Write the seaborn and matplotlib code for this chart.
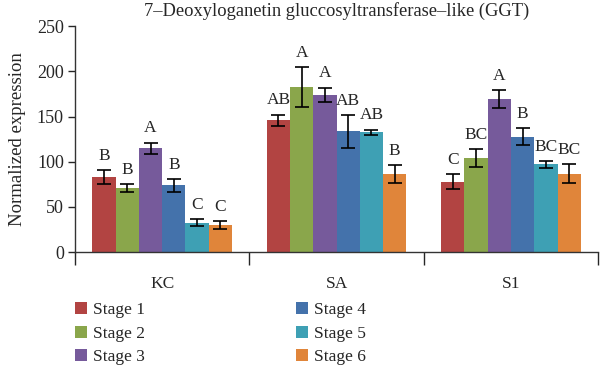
import pandas as pd
import matplotlib.pyplot as plt
import seaborn as sns

# values
groups = ["KC", "SA", "S1"]
stages = ["Stage 1", "Stage 2", "Stage 3", "Stage 4", "Stage 5", "Stage 6"]

kc_mean = [83, 70.5, 115, 74, 32.5, 30]
sa_mean = [146, 183, 174, 133.5, 132.5, 86]
s1_mean = [78, 104, 169, 127.5, 97, 86.5]

kc_err = [7.5, 4.5, 6, 7, 4, 4]
sa_err = [6, 22, 8, 18, 3, 10]
s1_err = [8, 9.5, 10, 9.5, 3.5, 10.5]

kc_letters = ["B", "B", "A", "B", "C", "C"]
sa_letters = ["AB", "A", "A", "AB", "AB", "B"]
s1_letters = ["C", "BC", "A", "B", "BC", "BC"]

colors = ["#B24442", "#8AA64B", "#765A9B", "#4472AB", "#3EA0B4", "#E0853A"]

means = {"KC": kc_mean, "SA": sa_mean, "S1": s1_mean}
errs = {"KC": kc_err, "SA": sa_err, "S1": s1_err}
letters = {"KC": kc_letters, "SA": sa_letters, "S1": s1_letters}

rows = []
for g in groups:
    for i, s in enumerate(stages):
        rows.append({"group": g, "stage": s, "value": means[g][i]})
df = pd.DataFrame(rows)

sns.set_style("ticks")
plt.rcParams["font.family"] = ["Liberation Serif", "DejaVu Serif"]

fig = plt.figure(figsize=(6, 3.68), dpi=100)
ax = fig.add_axes([0.125, 0.315, 0.872, 0.614])

sns.barplot(data=df, x="group", y="value", hue="stage", palette=colors,
            errorbar=None, width=0.8, saturation=1, linewidth=0, ax=ax)

# error bars and significance letters (copy the list, errorbar adds containers)
bar_conts = list(ax.containers)
for i, cont in enumerate(bar_conts):
    for j, bar in enumerate(cont):
        g = groups[j]
        xc = bar.get_x() + bar.get_width() / 2
        h = bar.get_height()
        e = errs[g][i]
        ax.errorbar(xc, h, yerr=e, fmt="none", ecolor="black",
                    elinewidth=1.2, capsize=4.7, capthick=1.2)
        ax.annotate(letters[g][i], (xc, h + e), xytext=(0, 4.5),
                    textcoords="offset points", ha="center", va="bottom",
                    fontsize=12.5)

ax.set_ylim(0, 250)
ax.set_xlim(-0.5, 2.5)
ax.set_yticks([0, 50, 100, 150, 200, 250])
ax.set_ylabel("Normalized expression", fontsize=13.5, labelpad=8)
ax.set_xlabel("")
ax.set_title("7\u2013Deoxyloganetin gluccosyltransferase\u2013like (GGT)",
             fontsize=13.3, pad=7)

ax.tick_params(axis="y", labelsize=13, length=5, width=1, pad=3)
ax.set_xticks([-0.5, 0.5, 1.5, 2.5], minor=True)
ax.tick_params(axis="x", which="minor", length=9, width=1)
ax.tick_params(axis="x", which="major", length=0, labelsize=12.5, pad=17)

sns.despine(ax=ax)
for sp in ["left", "bottom"]:
    ax.spines[sp].set_color("#333333")
    ax.spines[sp].set_linewidth(1)

handles, labels = ax.get_legend_handles_labels()
ax.get_legend().remove()
fig.legend(handles, labels, ncol=2, loc="upper left",
           bbox_to_anchor=(0.125, 0.180), frameon=False, fontsize=12.5,
           handlelength=0.7, handleheight=0.7, handletextpad=0.35,
           columnspacing=8.7, labelspacing=0.44, borderaxespad=0,
           borderpad=0)

fig.savefig("out.png", dpi=100)
